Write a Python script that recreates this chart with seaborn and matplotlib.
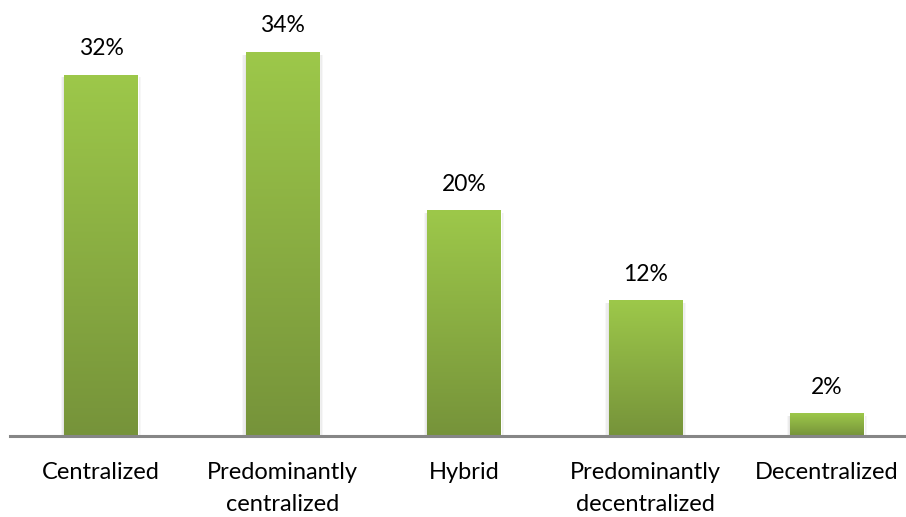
import numpy as np
import pandas as pd
import seaborn as sns
import matplotlib.pyplot as plt
from matplotlib.colors import LinearSegmentedColormap

categories = ["Centralized", "Predominantly\ncentralized", "Hybrid",
              "Predominantly\ndecentralized", "Decentralized"]
values = [32, 34, 20, 12, 2]
labels = ["32%", "34%", "20%", "12%", "2%"]


def main():
    df = pd.DataFrame({"category": categories, "value": values})

    sns.set_style("white")
    plt.rcParams["font.family"] = ["Lato", "DejaVu Sans"]

    fig = plt.figure(figsize=(9.06, 5.17), dpi=100)
    ax = fig.add_axes([10.25 / 906, 81 / 517, 907.5 / 906, 436 / 517])

    sns.barplot(data=df, x="category", y="value", color="#8aad42",
                width=0.405, ax=ax)
    ax.set_ylim(0, 38.6)
    ax.set_xlim(-0.5, 4.5)

    # vertical gradient fill for each bar, light at top, darker at bottom
    cmap = LinearSegmentedColormap.from_list("g", ["#76933a", "#9dc84a"])
    grad = np.linspace(0, 1, 256).reshape(-1, 1)
    for patch in ax.patches:
        x0, y0 = patch.get_x(), patch.get_y()
        w, h = patch.get_width(), patch.get_height()
        # soft shadow
        for k, a in [(0.04, 0.03), (0.025, 0.04), (0.012, 0.05)]:
            ax.bar(x0 + w / 2, h + 0.1, width=w + k, bottom=-0.35,
                   color="#000000", alpha=a, zorder=1, linewidth=0)
        im = ax.imshow(grad, cmap=cmap, origin="lower", aspect="auto",
                       extent=[x0, x0 + w, y0, y0 + h], zorder=3)
        im.set_clip_path(patch)
        patch.set_zorder(2)

    for i, (v, lab) in enumerate(zip(values, labels)):
        ax.text(i, v + 2.3, lab, ha="center", va="center", fontsize=16.5,
                color="#000000")

    ax.set_xlabel("")
    ax.set_ylabel("")
    ax.set_yticks([])
    ax.tick_params(axis="x", length=0, labelsize=17, pad=19, colors="#000000")
    for t in ax.get_xticklabels():
        t.set_linespacing(1.65)
    for side in ["top", "right", "left"]:
        ax.spines[side].set_visible(False)
    ax.spines["bottom"].set_color("#868686")
    ax.spines["bottom"].set_linewidth(2.2)
    ax.spines["bottom"].set_zorder(5)

    fig.savefig("out.png", dpi=100)


if __name__ == "__main__":
    main()
